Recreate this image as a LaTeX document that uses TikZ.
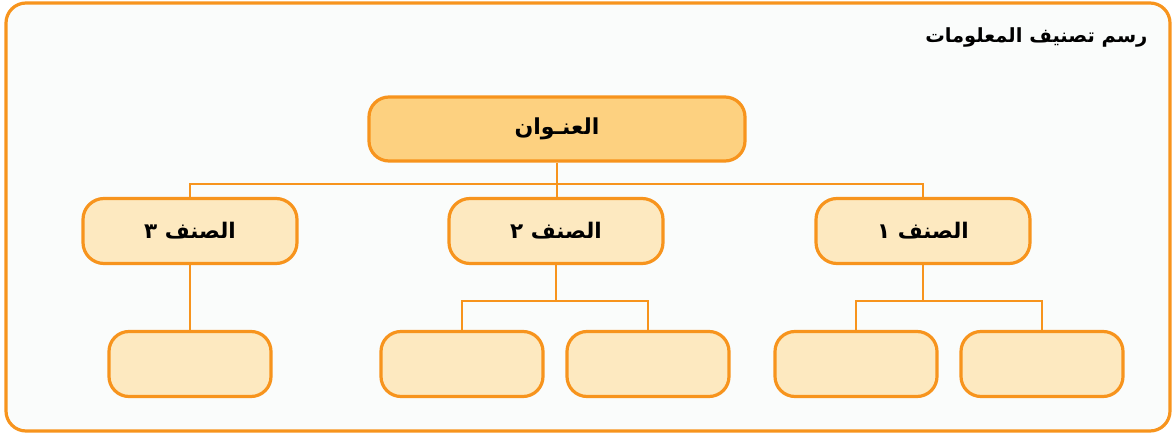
\documentclass[tikz,border=0pt]{standalone}
\usepackage{fontspec}
\newfontfamily\arabicfont[Script=Arabic]{DejaVu Sans}
\TeXXeTstate=1
\definecolor{frameor}{HTML}{F7941D}
\definecolor{titlefill}{HTML}{FDD180}
\definecolor{boxfill}{HTML}{FDE9C0}
\definecolor{bgpale}{HTML}{FAFCFB}
\tikzset{
  tbox/.style={draw=frameor, line width=3.2pt, fill=titlefill, rounded corners=20pt, minimum width=376pt, minimum height=64pt, inner sep=0pt, font=\arabicfont\bfseries\fontsize{22}{25}\selectfont},
  cbox/.style={draw=frameor, line width=3.2pt, fill=boxfill, rounded corners=21pt, minimum width=214pt, minimum height=65pt, inner sep=0pt, font=\arabicfont\bfseries\fontsize{21.5}{24}\selectfont},
  lbox/.style={draw=frameor, line width=3.2pt, fill=boxfill, rounded corners=20pt, minimum width=162pt, minimum height=65pt, inner sep=0pt},
  conn/.style={draw=frameor, line width=2.6pt}
}
\begin{document}
\begin{tikzpicture}[x=1pt,y=-1pt]
\useasboundingbox (0,0) rectangle (1173,435);
\draw[draw=frameor, line width=3.2pt, fill=bgpale, rounded corners=20pt] (6,3) rectangle (1170,431);
\node[anchor=east, font=\arabicfont\bfseries\fontsize{19.5}{22}\selectfont] (head) at (1151,37) {\beginR رسم تصنيف المعلومات\endR};
% boxes
\node[tbox] (t) at (557,129) {\beginR العنـوان\endR};
\node[cbox] (c3) at (190,231) {\beginR الصنف ٣\endR};
\node[cbox] (c2) at (556,231) {\beginR الصنف ٢\endR};
\node[cbox] (c1) at (923,231) {\beginR الصنف ١\endR};
\node[lbox] (l3) at (190,364) {};
\node[lbox] (l2a) at (462,364) {};
\node[lbox] (l2b) at (648,364) {};
\node[lbox] (l1a) at (856,364) {};
\node[lbox] (l1b) at (1042,364) {};
\coordinate (h) at (557,184);
\coordinate (m2) at (557,301);
\coordinate (m1) at (923,301);
% connectors
\draw[conn] (t.south) -- (t.south |- c2.north);
\draw[conn] (c3.north) -- (c3.north |- h) -- (c1.north |- h) -- (c1.north);
\draw[conn] (c3.south) -- (l3.north);
\draw[conn] (c2.south) -- (c2.south |- m2);
\draw[conn] (l2a.north) -- (l2a.north |- m2) -- (l2b.north |- m2) -- (l2b.north);
\draw[conn] (c1.south) -- (c1.south |- m1);
\draw[conn] (l1a.north) -- (l1a.north |- m1) -- (l1b.north |- m1) -- (l1b.north);
\end{tikzpicture}
\end{document}
